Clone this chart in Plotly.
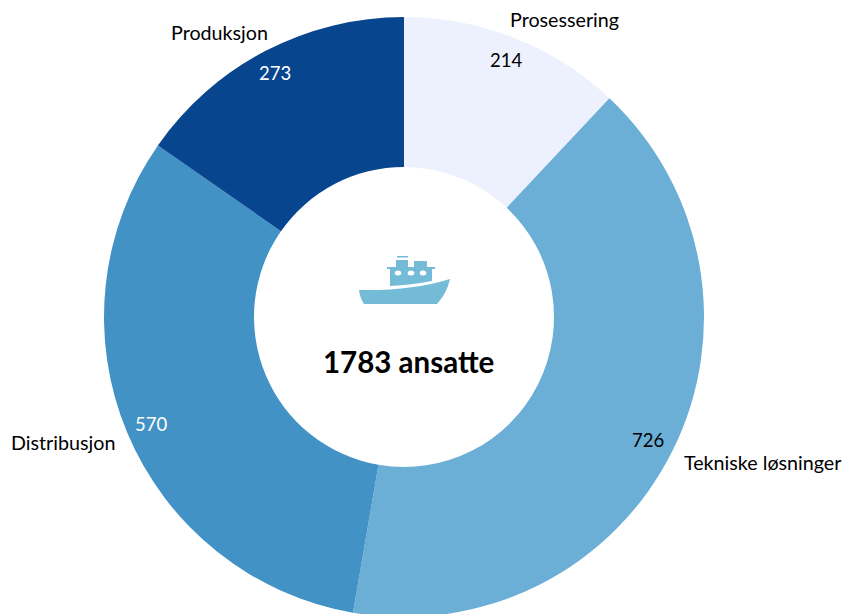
import plotly.graph_objects as go

categories = ["Prosessering", "Tekniske løsninger", "Distribusjon", "Produksjon"]
values = [214, 726, 570, 273]
colors = ["#EDF1FD", "#6BAED6", "#4292C6", "#08458F"]
label_colors = ["black", "black", "white", "white"]
center_text = "1783 ansatte"
FONT = "Lato"
W, H = 846, 620

fig = go.Figure(go.Pie(
    labels=categories, values=values, hole=0.5, sort=False, direction="clockwise",
    rotation=0, marker=dict(colors=colors, line=dict(width=0)),
    textinfo="none", hoverinfo="label+value", showlegend=False,
    domain=dict(x=[104/W, 704/W], y=[1-617/H, 1-17/H]),
))

px = lambda x: x/W
py = lambda y: 1-y/H

def annotate(x, y, text, color="black", size=19.7, bold=False):
    fig.add_annotation(x=px(x), y=py(y), xref="paper", yref="paper", xanchor="center", yanchor="middle",
                       text=f"<b>{text}</b>" if bold else text,
                       showarrow=False, font=dict(size=size, color=color, family=FONT))

annotate(219, 32, categories[3])
annotate(564, 20, categories[0])
annotate(63, 442, categories[2])
annotate(763, 462, categories[1])
annotate(275, 73, str(values[3]), "white", 18.5)
annotate(506, 60, str(values[0]), "black", 18.5)
annotate(151, 424, str(values[2]), "white", 18.5)
annotate(648, 440, str(values[1]), "black", 18.5)
annotate(408, 361, center_text, size=29.5, bold=True)

ship = "#74BBD8"
def P(x, y):
    return f"{px(x)} {py(y)}"
hull = (f"M {P(359,290)} Q {P(412,291)} {P(450,279)} Q {P(447,293)} {P(437,304)} "
        f"L {P(364,304)} Q {P(360,298)} {P(359,290)} Z")
body = (f"M {P(390,269)} L {P(387,269)} L {P(387,267)} L {P(396,267)} L {P(396,260)} L {P(408,260)} "
        f"L {P(408,267)} L {P(414,267)} L {P(414,261)} L {P(427,261)} L {P(427,267)} L {P(435,267)} "
        f"L {P(435,269)} L {P(432,269)} L {P(432,281)} Q {P(412,285)} {P(390,286)} Z")
bar = f"M {P(397,256)} L {P(408,256)} L {P(408,257.5)} L {P(397,257.5)} Z"
for d in (hull, body, bar):
    fig.add_shape(type="path", path=d, xref="paper", yref="paper", fillcolor=ship, line=dict(width=0))
for cx in (398, 411, 423):
    fig.add_shape(type="circle", xref="paper", yref="paper", x0=px(cx-3.3), x1=px(cx+3.3),
                  y0=py(275.5), y1=py(270.5), fillcolor="white", line=dict(width=0))

fig.update_layout(width=W, height=H, margin=dict(l=0, r=0, t=0, b=0), paper_bgcolor="white",
                  font=dict(family=FONT))
fig.write_html("out.html", config=dict(displayModeBar=False),
               post_script="document.body.style.margin='0';document.documentElement.style.overflow='hidden';document.body.style.overflow='hidden';")
